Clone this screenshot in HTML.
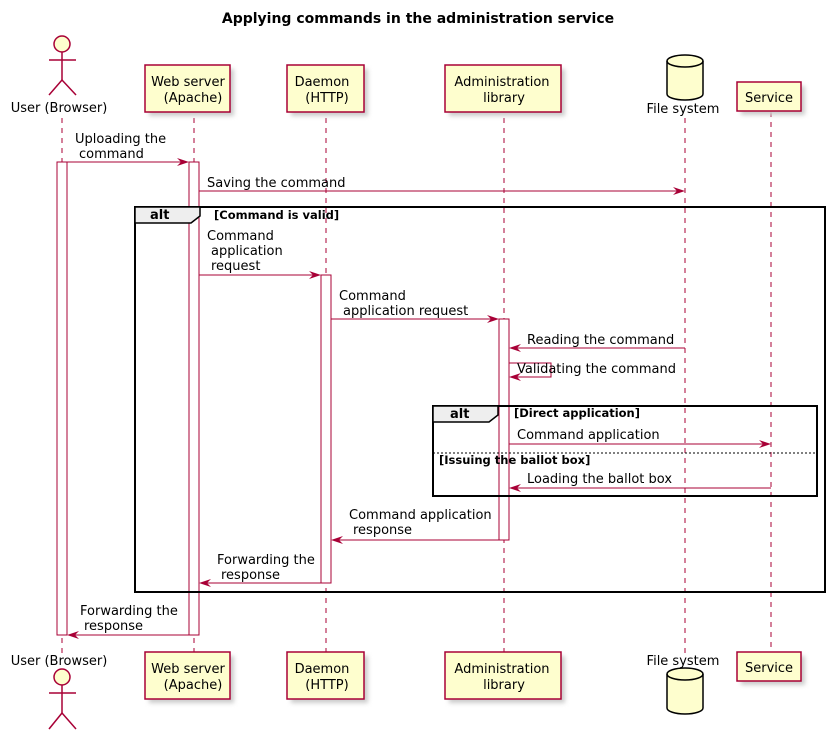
<!DOCTYPE html>
<html><head><meta charset="utf-8"><style>
html,body{margin:0;padding:0;background:#fff;}
svg{display:block;}
text{font-family:"DejaVu Sans","Liberation Sans",sans-serif;font-size:13px;fill:#000;}
.b{font-weight:bold;}
.ll{stroke:#A80036;stroke-width:1;stroke-dasharray:5,5;}
.box{fill:#FEFECE;stroke:#A80036;stroke-width:1.5;}
.act{fill:#fff;stroke:#A80036;stroke-width:1;}
.m{stroke:#A80036;stroke-width:1;fill:none;}
.ah{fill:#A80036;}
.frame{fill:none;stroke:#000;stroke-width:2;}
</style></head><body>
<svg width="835" height="739" viewBox="0 0 835 739" xmlns="http://www.w3.org/2000/svg">
<defs>
<filter id="sh" x="-20%" y="-20%" width="150%" height="150%"><feGaussianBlur stdDeviation="2"/></filter>
</defs>
<text x="418" y="23" text-anchor="middle" class="b" style="font-size:14px">Applying commands in the administration service</text>

<line class="ll" x1="62" y1="118" x2="62" y2="655"/>
<line class="ll" x1="194" y1="118" x2="194" y2="652"/>
<line class="ll" x1="326" y1="118" x2="326" y2="652"/>
<line class="ll" x1="504" y1="118" x2="504" y2="652"/>
<line class="ll" x1="685" y1="118" x2="685" y2="655"/>
<line class="ll" x1="771" y1="112" x2="771" y2="652"/>

<g>
<rect x="149" y="69" width="85" height="47" fill="#ccc" filter="url(#sh)"/>
<rect class="box" x="145" y="65" width="85" height="47"/>
<text x="188" y="86" text-anchor="middle">Web server</text><text x="193" y="102" text-anchor="middle">(Apache)</text>
<rect x="291" y="69" width="77" height="47" fill="#ccc" filter="url(#sh)"/>
<rect class="box" x="287" y="65" width="77" height="47"/>
<text x="322" y="86" text-anchor="middle">Daemon</text><text x="327" y="102" text-anchor="middle">(HTTP)</text>
<rect x="449" y="69" width="116" height="47" fill="#ccc" filter="url(#sh)"/>
<rect class="box" x="445" y="65" width="116" height="47"/>
<text x="502" y="86" text-anchor="middle">Administration</text><text x="504" y="102" text-anchor="middle">library</text>
<rect x="741" y="86" width="64" height="29" fill="#ccc" filter="url(#sh)"/>
<rect class="box" x="737" y="82" width="64" height="29"/>
<text x="769" y="102" text-anchor="middle">Service</text>
<path d="M667,61 A18,6 0 0 1 703,61 L703,94 A18,6 0 0 1 667,94 Z" fill="#FEFECE" stroke="#000" stroke-width="1.5"/>
<path d="M667,61 A18,6 0 0 0 703,61" fill="none" stroke="#000" stroke-width="1.5"/>
<text x="683" y="113" text-anchor="middle">File system</text>
<g stroke="#A80036" stroke-width="1.5" fill="none">
<circle cx="62" cy="44" r="8" fill="#FEFECE"/>
<line x1="62" y1="52" x2="62" y2="80"/><line x1="49" y1="60" x2="76" y2="60"/>
<line x1="62" y1="80" x2="49" y2="95"/><line x1="62" y1="80" x2="76" y2="95"/>
</g>
<text x="59" y="112" text-anchor="middle">User (Browser)</text>
</g>

<g>
<rect x="149" y="656" width="85" height="47" fill="#ccc" filter="url(#sh)"/>
<rect class="box" x="145" y="652" width="85" height="47"/>
<text x="188" y="673" text-anchor="middle">Web server</text><text x="193" y="689" text-anchor="middle">(Apache)</text>
<rect x="291" y="656" width="77" height="47" fill="#ccc" filter="url(#sh)"/>
<rect class="box" x="287" y="652" width="77" height="47"/>
<text x="322" y="673" text-anchor="middle">Daemon</text><text x="327" y="689" text-anchor="middle">(HTTP)</text>
<rect x="449" y="656" width="116" height="47" fill="#ccc" filter="url(#sh)"/>
<rect class="box" x="445" y="652" width="116" height="47"/>
<text x="502" y="673" text-anchor="middle">Administration</text><text x="504" y="689" text-anchor="middle">library</text>
<rect x="741" y="656" width="64" height="29" fill="#ccc" filter="url(#sh)"/>
<rect class="box" x="737" y="652" width="64" height="29"/>
<text x="769" y="672" text-anchor="middle">Service</text>
<path d="M667,674 A18,6 0 0 1 703,674 L703,708 A18,6 0 0 1 667,708 Z" fill="#FEFECE" stroke="#000" stroke-width="1.5"/>
<path d="M667,674 A18,6 0 0 0 703,674" fill="none" stroke="#000" stroke-width="1.5"/>
<text x="683" y="665" text-anchor="middle">File system</text>
<g stroke="#A80036" stroke-width="1.5" fill="none">
<circle cx="62" cy="677" r="8" fill="#FEFECE"/>
<line x1="62" y1="685" x2="62" y2="713"/><line x1="49" y1="693" x2="76" y2="693"/>
<line x1="62" y1="713" x2="49" y2="729"/><line x1="62" y1="713" x2="76" y2="729"/>
</g>
<text x="59" y="665" text-anchor="middle">User (Browser)</text>
</g>

<rect class="act" x="57" y="162" width="10" height="473"/>
<rect class="act" x="189" y="162" width="10" height="473"/>
<rect class="act" x="321" y="275" width="10" height="308"/>
<rect class="act" x="499" y="319" width="10" height="221"/>

<rect class="frame" x="135" y="207" width="690" height="385"/>
<path d="M135,207 L200,207 L200,216 L191,223 L135,223 Z" fill="#EEEEEE" stroke="#000" stroke-width="1.5"/>
<text x="150" y="219" class="b">alt</text>
<text x="214" y="219" class="b" style="font-size:11.5px">[Command is valid]</text>

<rect class="frame" x="433" y="406" width="384" height="90"/>
<path d="M433,406 L498,406 L498,415 L489,422 L433,422 Z" fill="#EEEEEE" stroke="#000" stroke-width="1.5"/>
<text x="450" y="418" class="b">alt</text>
<text x="514" y="417" class="b" style="font-size:11.5px">[Direct application]</text>
<line x1="433" y1="453" x2="817" y2="453" stroke="#000" stroke-width="1" stroke-dasharray="2,2"/>
<text x="439" y="464" class="b" style="font-size:11.5px">[Issuing the ballot box]</text>

<line class="m" x1="67" y1="162" x2="187" y2="162"/>
<path class="ah" d="M189,162 L177,158 L181,162 L177,166 Z"/>
<text x="75" y="143">Uploading the</text><text x="79" y="158">command</text>

<line class="m" x1="199" y1="191" x2="683" y2="191"/>
<path class="ah" d="M685,191 L673,187 L677,191 L673,195 Z"/>
<text x="207" y="187">Saving the command</text>

<line class="m" x1="199" y1="275" x2="319" y2="275"/>
<path class="ah" d="M321,275 L309,271 L313,275 L309,279 Z"/>
<text x="207" y="240">Command</text><text x="211" y="255">application</text><text x="211" y="270">request</text>

<line class="m" x1="331" y1="319" x2="497" y2="319"/>
<path class="ah" d="M499,319 L487,315 L491,319 L487,323 Z"/>
<text x="339" y="300">Command</text><text x="343" y="315">application request</text>

<line class="m" x1="511" y1="348" x2="685" y2="348"/>
<path class="ah" d="M509,348 L521,344 L517,348 L521,352 Z"/>
<text x="527" y="344">Reading the command</text>

<path class="m" d="M509,363 L551,363 L551,377 L511,377"/>
<path class="ah" d="M509,377 L521,373 L517,377 L521,381 Z"/>
<text x="517" y="373">Validating the command</text>

<line class="m" x1="509" y1="444" x2="769" y2="444"/>
<path class="ah" d="M771,444 L759,440 L763,444 L759,448 Z"/>
<text x="517" y="439">Command application</text>

<line class="m" x1="511" y1="488" x2="771" y2="488"/>
<path class="ah" d="M509,488 L521,484 L517,488 L521,492 Z"/>
<text x="527" y="483">Loading the ballot box</text>

<line class="m" x1="333" y1="540" x2="499" y2="540"/>
<path class="ah" d="M331,540 L343,536 L339,540 L343,544 Z"/>
<text x="349" y="519">Command application</text><text x="353" y="534">response</text>

<line class="m" x1="201" y1="583" x2="321" y2="583"/>
<path class="ah" d="M199,583 L211,579 L207,583 L211,587 Z"/>
<text x="217" y="564">Forwarding the</text><text x="221" y="579">response</text>

<line class="m" x1="69" y1="635" x2="189" y2="635"/>
<path class="ah" d="M67,635 L79,631 L75,635 L79,639 Z"/>
<text x="80" y="615">Forwarding the</text><text x="84" y="630">response</text>
</svg>
</body></html>
